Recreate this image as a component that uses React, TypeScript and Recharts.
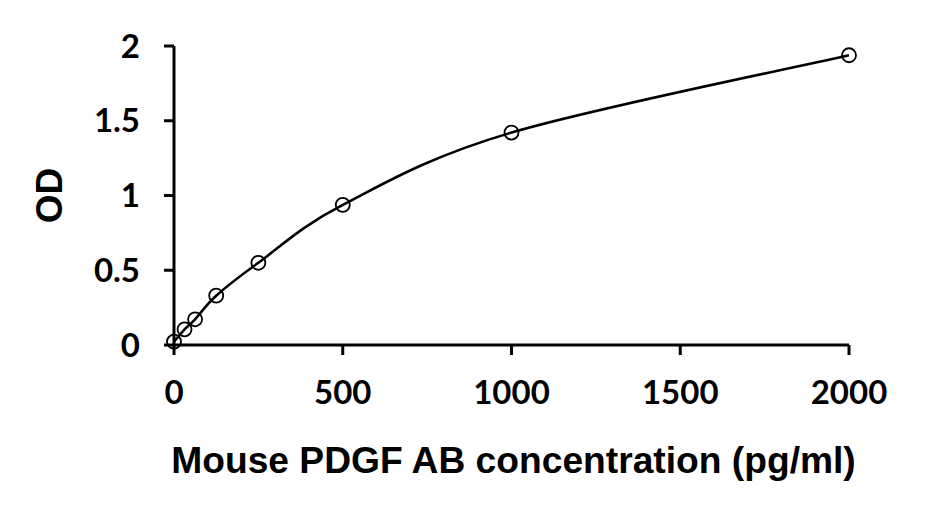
import React from 'react';
import { LineChart, Line, XAxis, YAxis, Label } from 'recharts';

const concentrations = [0, 31.25, 62.5, 125, 250, 500, 1000, 2000];
const odValues = [0.022, 0.105, 0.172, 0.33, 0.55, 0.9375, 1.421, 1.938];
const xTicks = [0, 500, 1000, 1500, 2000];
const yTicks = [0, 0.5, 1, 1.5, 2];
const xTitle = 'Mouse PDGF AB concentration (pg/ml)';
const yTitle = 'OD';

const data = concentrations.map((c, i) => ({ x: c, y: odValues[i] }));

const titleFont = "'Liberation Sans', Arial, sans-serif";
const tickFont = "Lato, 'Liberation Sans', sans-serif";

// Catmull-Rom style smoothing (like a spreadsheet "smoothed line"),
// applied to the points that the library has already scaled.
function smoothCurve(context: any) {
  let pts: [number, number][] = [];
  return {
    areaStart() {},
    areaEnd() {},
    lineStart() {
      pts = [];
    },
    point(x: number, y: number) {
      pts.push([+x, +y]);
    },
    lineEnd() {
      const n = pts.length;
      if (n === 0) return;
      context.moveTo(pts[0][0], pts[0][1]);
      if (n === 1) return;
      for (let i = 0; i < n - 1; i++) {
        const p0 = pts[i === 0 ? 0 : i - 1];
        const p1 = pts[i];
        const p2 = pts[i + 1];
        const p3 = pts[i + 2 < n ? i + 2 : n - 1];
        const c1x = p1[0] + (p2[0] - p0[0]) / 6;
        const c1y = p1[1] + (p2[1] - p0[1]) / 6;
        const c2x = p2[0] - (p3[0] - p1[0]) / 6;
        const c2y = p2[1] - (p3[1] - p1[1]) / 6;
        context.bezierCurveTo(c1x, c1y, c2x, c2y, p2[0], p2[1]);
      }
    },
  };
}

const YTitle = (props: any) => {
  const vb = props.viewBox || { x: 0, y: 46, width: 174, height: 299 };
  const cx = vb.x + 49;
  const cy = vb.y + vb.height / 2;
  return (
    <text
      x={cx}
      y={cy}
      dy="0.36em"
      transform={`rotate(-90 ${cx} ${cy})`}
      textAnchor="middle"
      fontFamily={titleFont}
      fontWeight="bold"
      fontSize={37}
      fill="#000"
    >
      {yTitle}
    </text>
  );
};

const XTitle = (props: any) => {
  const vb = props.viewBox || { x: 174, y: 345, width: 675, height: 169 };
  const cx = vb.x + vb.width / 2 + 2;
  const cy = vb.y + 128;
  return (
    <text
      x={cx}
      y={cy}
      textAnchor="middle"
      fontFamily={titleFont}
      fontWeight="bold"
      fontSize={37.2}
      fill="#000"
    >
      {xTitle}
    </text>
  );
};

export default function App() {
  return (
    <div style={{ position: 'absolute', left: 0, top: 0, width: 929, height: 514, background: '#fff' }}>
      <LineChart
        width={929}
        height={514}
        data={data}
        margin={{ top: 46, right: 80, bottom: 0, left: 0 }}
      >
        <XAxis
          type="number"
          dataKey="x"
          domain={[0, 2000]}
          ticks={xTicks}
          height={169}
          axisLine={{ stroke: '#000', strokeWidth: 3 }}
          tickLine={{ stroke: '#000', strokeWidth: 3 }}
          tickSize={10}
          tickMargin={26}
          tick={{ fill: '#000', fontFamily: tickFont, fontWeight: 'bold', fontSize: 33 }}
          interval={0}
        >
          <Label content={<XTitle />} />
        </XAxis>
        <YAxis
          type="number"
          dataKey="y"
          domain={[0, 2]}
          ticks={yTicks}
          width={174}
          axisLine={{ stroke: '#000', strokeWidth: 3 }}
          tickLine={{ stroke: '#000', strokeWidth: 3 }}
          tickSize={10}
          tickMargin={24}
          tick={{ fill: '#000', fontFamily: tickFont, fontWeight: 'bold', fontSize: 33 }}
          interval={0}
        >
          <Label content={<YTitle />} />
        </YAxis>
        <Line
          type={smoothCurve as any}
          dataKey="y"
          stroke="#000"
          strokeWidth={2.6}
          dot={{ r: 7, stroke: '#000', strokeWidth: 1.8, fill: 'none' }}
          isAnimationActive={false}
        />
      </LineChart>
    </div>
  );
}
